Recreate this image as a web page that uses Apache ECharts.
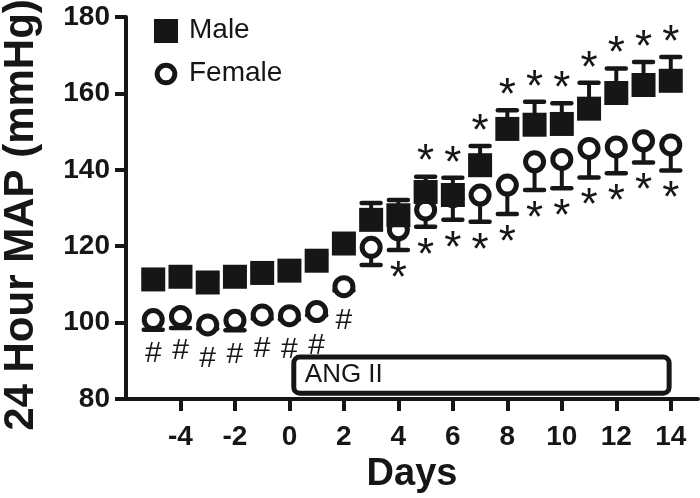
<!DOCTYPE html>
<html>
<head>
<meta charset="utf-8">
<style>html,body{margin:0;padding:0;background:#fff;}#chart{width:700px;height:498px;}</style>
<script src="https://cdn.jsdelivr.net/npm/echarts@6/dist/echarts.min.js"></script>
</head>
<body>
<div id="chart"></div>
<script>
// ---- data ----
const days = [-5,-4,-3,-2,-1,0,1,2,3,4,5,6,7,8,9,10,11,12,13,14];
const male = [111.3,112.0,110.5,112.0,113.0,113.6,116.2,120.7,126.9,128.1,134.2,133.4,141.2,150.7,151.8,152.0,156.0,160.1,162.2,163.3];
const maleErr = [1.5,1.5,1.5,1.5,1.5,1.5,1.5,1.5,4.4,4.0,4.0,4.5,5.0,4.9,6.0,5.4,6.8,6.4,6.0,6.2];
const female = [100.8,101.6,99.4,100.6,102.0,101.8,102.9,109.4,119.7,124.3,129.5,133.0,133.4,136.0,142.1,142.7,145.6,146.0,147.6,146.5];
const femaleErr = [2.7,3.0,1.0,2.6,1.0,1.0,1.0,1.0,4.6,5.3,4.4,6.1,7.0,7.6,7.4,7.5,7.6,6.9,5.7,6.7];
const hashDays = [-5,-4,-3,-2,-1,0,1,2];
const maleStarDays = [5,6,7,8,9,10,11,12,13,14];
const femaleStarDays = [4,5,6,7,8,9,10,11,12,13,14];
const xTicks = [-4,-2,0,2,4,6,8,10,12,14];
const yTicks = [80,100,120,140,160,180];
const seriesNames = ['Male','Female'];
const angLabel = 'ANG II';
const angStart = 0, angEnd = 14;

const INK = '#161616';
const FONT = "'Liberation Sans', Arial, sans-serif";

function idx(d){ return days.indexOf(d); }

const maleData = days.map((d,i)=>[d, male[i], maleErr[i]]);
const femaleData = days.map((d,i)=>[d, female[i], femaleErr[i]]);

function errRender(dir){
  return function(params, api){
    const x = api.value(0), y = api.value(1), e = api.value(2);
    const p0 = api.coord([x, y]);
    const p1 = api.coord([x, y + dir*e]);
    return {type:'group', children:[
      {type:'line', shape:{x1:p0[0], y1:p0[1], x2:p1[0], y2:p1[1]}, style:{stroke:INK, lineWidth:4}},
      {type:'line', shape:{x1:p1[0]-9.5, y1:p1[1], x2:p1[0]+9.5, y2:p1[1]}, style:{stroke:INK, lineWidth:4.5, lineCap:'round'}}
    ]};
  };
}

function textRender(txt, size, pxOffset){
  return function(params, api){
    const p = api.coord([api.value(0), api.value(1)]);
    return {type:'text', x:p[0], y:p[1] + pxOffset, style:{
      text:txt, fill:INK, font: size + 'px ' + FONT, textAlign:'center', textVerticalAlign:'middle'}};
  };
}

const hashData = hashDays.map(d=>[d, female[idx(d)]]);
const maleStarData = maleStarDays.map(d=>[d, male[idx(d)] + maleErr[idx(d)]]);
const femaleStarData = femaleStarDays.map(d=>[d, female[idx(d)] - femaleErr[idx(d)]]);

const STAR = 44;
const STAR_SHIFT = 0.22 * STAR;
const chart = echarts.init(document.getElementById('chart'));
chart.setOption({
  animation:false,
  backgroundColor:'#fff',
  grid:{left:126, right:2, top:17, bottom:99, containLabel:false, outerBoundsMode:'none'},
  graphic:[
    {type:'rect', left:154, top:19, shape:{width:24, height:24}, style:{fill:INK}},
    {type:'text', left:189, top:16, style:{text:seriesNames[0], fill:INK, font:'28px '+FONT}},
    {type:'circle', shape:{cx:166, cy:74, r:8.8}, style:{fill:'#fff', stroke:INK, lineWidth:5}},
    {type:'text', left:189, top:59, style:{text:seriesNames[1], fill:INK, font:'28px '+FONT}}
  ],
  xAxis:{
    type:'value', min:-6, max:15, interval:2,
    name:'Days', nameLocation:'middle', nameGap:50,
    nameTextStyle:{fontFamily:FONT, fontWeight:'bold', fontSize:38, color:INK},
    splitLine:{show:false},
    axisLine:{onZero:false, lineStyle:{color:INK, width:4}},
    axisTick:{customValues:xTicks, length:12, lineStyle:{color:INK, width:4}},
    axisLabel:{customValues:xTicks, margin:24, fontFamily:FONT, fontWeight:'bold', fontSize:28, color:INK}
  },
  yAxis:{
    type:'value', min:80, max:180, interval:20,
    name:'24 Hour MAP (mmHg)', nameLocation:'middle', nameGap:84,
    nameTextStyle:{fontFamily:FONT, fontWeight:'bold', fontSize:42, color:INK, padding:[0,14,0,0]},
    splitLine:{show:false},
    axisLine:{show:true, onZero:false, lineStyle:{color:INK, width:4}},
    axisTick:{show:true, customValues:yTicks, length:11, lineStyle:{color:INK, width:4}},
    axisLabel:{customValues:yTicks, margin:16, fontFamily:FONT, fontWeight:'bold', fontSize:28, color:INK}
  },
  series:[
    {type:'custom', name:'angbox', silent:true, clip:false, z:1,
     data:[[angStart, angEnd]],
     renderItem:function(params, api){
       const a = api.coord([api.value(0)+0.16, 91.0]);
       const b = api.coord([api.value(1)-0.06, 81.5]);
       return {type:'group', children:[
         {type:'rect', shape:{x:a[0], y:a[1], width:b[0]-a[0], height:b[1]-a[1], r:6},
          style:{fill:'#fff', stroke:INK, lineWidth:5}},
         {type:'text', x:a[0]+11, y:(a[1]+b[1])/2, style:{text:angLabel, fill:INK,
          font:'26px '+FONT, textAlign:'left', textVerticalAlign:'middle'}}
       ]};
     }},
    {type:'custom', name:'femaleErr', silent:true, clip:false, z:2, data:femaleData, renderItem:errRender(-1)},
    {type:'scatter', name:seriesNames[1], z:3, data:femaleData.map(r=>[r[0],r[1]]), symbol:'circle', symbolSize:18,
     itemStyle:{color:'#fff', borderColor:INK, borderWidth:5, opacity:1}},
    {type:'custom', name:'maleErr', silent:true, clip:false, z:4, data:maleData, renderItem:errRender(1)},
    {type:'scatter', name:seriesNames[0], z:5, data:maleData.map(r=>[r[0],r[1]]), symbol:'rect', symbolSize:24,
     itemStyle:{color:INK, opacity:1}},
    {type:'custom', name:'hash', silent:true, clip:false, z:6, data:hashData, renderItem:textRender('#', 30, 34)},
    {type:'custom', name:'mstar', silent:true, clip:false, z:6, data:maleStarData, renderItem:textRender('*', STAR, -23 + STAR_SHIFT)},
    {type:'custom', name:'fstar', silent:true, clip:false, z:6, data:femaleStarData, renderItem:textRender('*', STAR, 20 + STAR_SHIFT)}
  ]
});
</script>
</body>
</html>
